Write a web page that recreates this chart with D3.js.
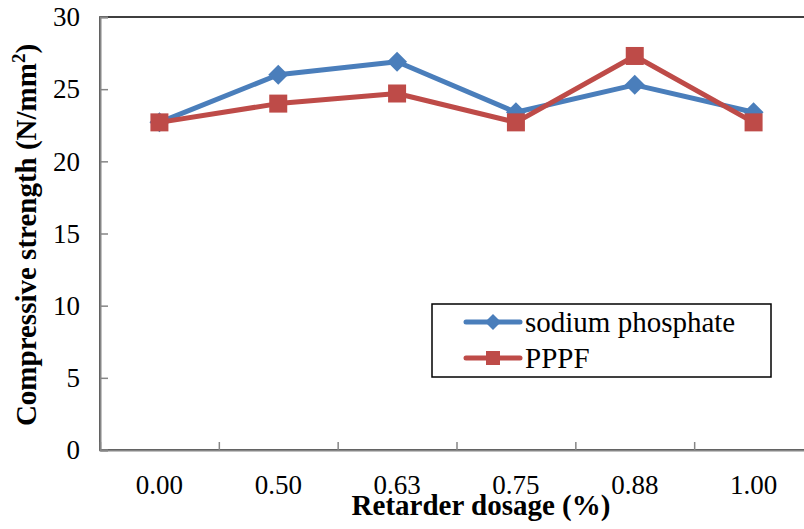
<!DOCTYPE html>
<html>
<head>
<meta charset="utf-8">
<script src="https://cdn.jsdelivr.net/npm/d3@7"></script>
<style>
  body { margin: 0; background: #fff; }
</style>
</head>
<body>
<div id="canvas-body"></div>
<script>
// categories on x axis (retarder dosage, %)
var dosages = ["0.00", "0.50", "0.63", "0.75", "0.88", "1.00"];

// compressive strength values (N/mm2)
var sodiumPhosphate = [22.7, 26.0, 26.9, 23.4, 25.3, 23.4];
var pppf = [22.7, 24.0, 24.7, 22.7, 27.3, 22.7];

// y axis ticks
var yTicks = [0, 5, 10, 15, 20, 25, 30];

var seriesNames = ["sodium phosphate", "PPPF"];

// size of svg image
const width = 804, height = 529;
const plot = {left: 100, right: 813, top: 17, bottom: 450};

var font = "'Liberation Serif', 'Times New Roman', serif";
var blue = "#4a7ebb", red = "#be4b48", axisGray = "#868686";

var s = d3.select("#canvas-body")
    .append("svg")
    .attr("width", width)
    .attr("height", height)
    .attr("font-family", font);

// scales
var x = d3.scaleBand().domain(dosages).range([plot.left, plot.right]);
var y = d3.scaleLinear().domain([0, 30]).range([plot.bottom, plot.top]);

// plot area border (right side falls outside the image)
s.append("rect")
    .attr("x", plot.left)
    .attr("y", plot.top)
    .attr("width", plot.right - plot.left)
    .attr("height", plot.bottom - plot.top)
    .attr("fill", "none")
    .attr("stroke", "#000")
    .attr("stroke-width", 1.5);

// y axis, ticks pointing inward
var yaxis = d3.axisRight(y).tickValues(yTicks).tickSize(8).tickFormat("");
var gy = s.append("g")
    .attr("transform", "translate(" + plot.left + ",0)")
    .call(yaxis);
gy.select(".domain").attr("stroke", axisGray).attr("stroke-width", 2);
gy.selectAll(".tick line").attr("stroke", axisGray).attr("stroke-width", 1.5);

s.selectAll(".ylabel")
    .data(yTicks)
    .enter()
    .append("text")
    .attr("class", "ylabel")
    .attr("x", 80)
    .attr("y", function(d){ return y(d); })
    .attr("dy", "0.34em")
    .attr("text-anchor", "end")
    .attr("font-family", font)
    .attr("font-size", 27)
    .text(function(d){ return d; });

// x axis: ticks at category boundaries, pointing up
var bounds = dosages.map(function(d){ return x(d); }).concat([plot.right]);
var xb = d3.scaleLinear().domain([plot.left, plot.right]).range([plot.left, plot.right]);
var xaxis = d3.axisTop(xb).tickValues(bounds).tickSize(8).tickSizeOuter(0).tickFormat("");
var gx = s.append("g")
    .attr("transform", "translate(0," + plot.bottom + ")")
    .call(xaxis);
gx.select(".domain").attr("stroke", axisGray).attr("stroke-width", 2);
gx.selectAll(".tick line").attr("stroke", axisGray).attr("stroke-width", 1.5);

s.selectAll(".xlabel")
    .data(dosages)
    .enter()
    .append("text")
    .attr("class", "xlabel")
    .attr("x", function(d){ return x(d) + x.bandwidth() / 2; })
    .attr("y", 494)
    .attr("text-anchor", "middle")
    .attr("font-family", font)
    .attr("font-size", 27)
    .text(function(d){ return d; });

// axis titles
s.append("text")
    .attr("x", 481)
    .attr("y", 515)
    .attr("text-anchor", "middle")
    .attr("font-family", font)
    .attr("font-size", 29)
    .attr("font-weight", "bold")
    .text("Retarder dosage (%)");

var yt = s.append("text")
    .attr("transform", "translate(36,235) rotate(-90)")
    .attr("text-anchor", "middle")
    .attr("font-family", font)
    .attr("font-size", 29)
    .attr("font-weight", "bold");
yt.append("tspan").text("Compressive strength (N/mm");
yt.append("tspan").attr("dy", -11).attr("font-size", 19).text("2");
yt.append("tspan").attr("dy", 11).text(")");

// markers
function diamond(g, cx, cy, r, color){
    g.append("path")
        .attr("d", "M" + cx + "," + (cy - r) + "L" + (cx + r) + "," + cy + "L" + cx + "," + (cy + r) + "L" + (cx - r) + "," + cy + "Z")
        .attr("fill", color);
}
function square(g, cx, cy, r, color){
    g.append("rect")
        .attr("x", cx - r).attr("y", cy - r)
        .attr("width", 2 * r).attr("height", 2 * r)
        .attr("fill", color);
}

var line = d3.line()
    .x(function(d, i){ return x(dosages[i]) + x.bandwidth() / 2; })
    .y(function(d){ return y(d); });

var series = [
    {name: seriesNames[0], values: sodiumPhosphate, color: blue, marker: diamond, r: 10},
    {name: seriesNames[1], values: pppf, color: red, marker: square, r: 9}
];

series.forEach(function(sr){
    var g = s.append("g");
    g.append("path")
        .attr("d", line(sr.values))
        .attr("fill", "none")
        .attr("stroke", sr.color)
        .attr("stroke-width", 5)
        .attr("stroke-linejoin", "round");
    sr.values.forEach(function(v, i){
        sr.marker(g, x(dosages[i]) + x.bandwidth() / 2, y(v), sr.r, sr.color);
    });
});

// legend
var lg = s.append("g");
lg.append("rect")
    .attr("x", 432).attr("y", 304)
    .attr("width", 339).attr("height", 73)
    .attr("fill", "#fff")
    .attr("stroke", "#000")
    .attr("stroke-width", 1.5);
series.forEach(function(sr, i){
    var ly = 322 + i * 36;
    lg.append("line")
        .attr("x1", 466).attr("x2", 520)
        .attr("y1", ly).attr("y2", ly)
        .attr("stroke", sr.color)
        .attr("stroke-width", 5)
        .attr("stroke-linecap", "round");
    sr.marker(lg, 493, ly, sr.r - 2, sr.color);
    lg.append("text")
        .attr("x", 525)
        .attr("y", ly)
        .attr("dy", "0.34em")
        .attr("font-family", font)
        .attr("font-size", 29)
        .text(sr.name);
});
</script>
</body>
</html>
